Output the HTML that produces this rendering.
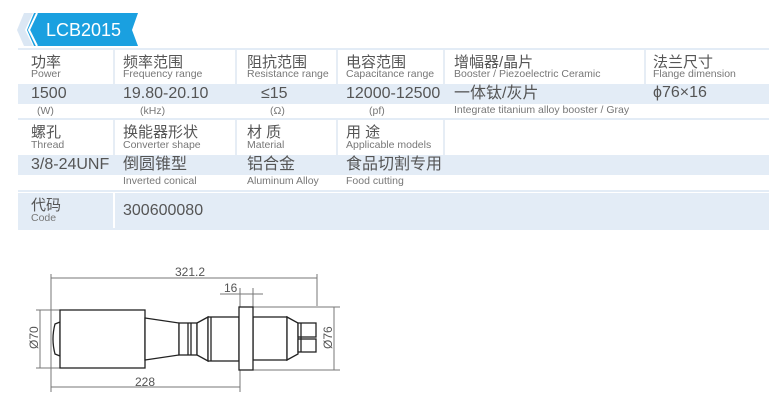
<!DOCTYPE html>
<html><head><meta charset="utf-8"><style>
body{margin:0;width:780px;height:413px;background:#fff;position:relative;overflow:hidden;font-family:"Liberation Sans","Noto Sans CJK SC",sans-serif;color:#555}
.a{position:absolute}
.band{position:absolute;left:18px;width:751px;background:#e3ecf6}
.vl{position:absolute;width:2px;background:#e6edf5}
.hl{position:absolute;left:18px;width:751px;height:2px;background:#e3ecf6}
.cn{position:absolute;font-size:15px;line-height:16px;color:#555;white-space:nowrap}
.en{position:absolute;font-size:10.5px;line-height:11px;color:#777;white-space:nowrap}
.v{position:absolute;font-size:16px;line-height:16px;color:#555;white-space:nowrap}
</style></head><body>
<svg class="a" style="left:0;top:0" width="160" height="50">
<polygon points="24,13 33,13 25,30 33,46 24,46 17,30" fill="#dbe7f4"/>
<polygon points="34,13 138,13 132,30 138,46 34,46 27,30" fill="#1aa0e0"/>
<polyline points="37,13 29,30 37,46" fill="none" stroke="#fff" stroke-width="2"/>
<text x="46" y="36" font-size="18" fill="#fff" font-family="Liberation Sans,sans-serif">LCB2015</text>
</svg>
<div class="hl" style="top:48px"></div>
<div class="band" style="top:84px;height:20px"></div>
<div class="hl" style="top:118px"></div>
<div class="band" style="top:155px;height:20px"></div>
<div class="hl" style="top:190px"></div>
<div class="band" style="top:193px;height:35px"></div>
<div class="hl" style="top:228px"></div>
<div class="vl" style="left:113px;top:50px;height:34px"></div>
<div class="vl" style="left:235px;top:50px;height:34px"></div>
<div class="vl" style="left:336px;top:50px;height:34px"></div>
<div class="vl" style="left:443px;top:50px;height:34px"></div>
<div class="vl" style="left:644px;top:50px;height:34px"></div>
<div class="vl" style="left:113px;top:120px;height:35px"></div>
<div class="vl" style="left:235px;top:120px;height:35px"></div>
<div class="vl" style="left:336px;top:120px;height:35px"></div>
<div class="vl" style="left:443px;top:120px;height:35px"></div>
<div class="vl" style="left:113px;top:193px;height:35px;background:#fff"></div>

<div class="cn" style="left:31px;top:55px">功率</div><div class="en" style="left:31px;top:69px">Power</div>
<div class="cn" style="left:123px;top:55px">频率范围</div><div class="en" style="left:123px;top:69px">Frequency range</div>
<div class="cn" style="left:247px;top:55px">阻抗范围</div><div class="en" style="left:247px;top:69px">Resistance range</div>
<div class="cn" style="left:346px;top:55px">电容范围</div><div class="en" style="left:346px;top:69px">Capacitance range</div>
<div class="cn" style="left:454px;top:55px">增幅器/晶片</div><div class="en" style="left:454px;top:69px">Booster / Piezoelectric Ceramic</div>
<div class="cn" style="left:653px;top:55px">法兰尺寸</div><div class="en" style="left:653px;top:69px">Flange dimension</div>

<div class="v" style="left:31px;top:86px">1500</div>
<div class="v" style="left:123px;top:86px">19.80-20.10</div>
<div class="v" style="left:261px;top:86px">≤15</div>
<div class="v" style="left:346px;top:86px">12000-12500</div>
<div class="v" style="left:454px;top:86px">一体钛/灰片</div>
<div class="v" style="left:653px;top:85px">ϕ76×16</div>
<div class="en" style="left:37px;top:106px">(W)</div>
<div class="en" style="left:140px;top:106px">(kHz)</div>
<div class="en" style="left:270px;top:106px">(Ω)</div>
<div class="en" style="left:369px;top:106px">(pf)</div>
<div class="en" style="left:454px;top:105px">Integrate titanium alloy booster / Gray</div>

<div class="cn" style="left:31px;top:125px">螺孔</div><div class="en" style="left:31px;top:140px">Thread</div>
<div class="cn" style="left:123px;top:125px">换能器形状</div><div class="en" style="left:123px;top:140px">Converter shape</div>
<div class="cn" style="left:247px;top:125px">材 质</div><div class="en" style="left:247px;top:140px">Material</div>
<div class="cn" style="left:346px;top:125px">用 途</div><div class="en" style="left:346px;top:140px">Applicable models</div>

<div class="v" style="left:31px;top:157px">3/8-24UNF</div>
<div class="v" style="left:123px;top:157px">倒圆锥型</div>
<div class="v" style="left:247px;top:157px">铝合金</div>
<div class="v" style="left:346px;top:157px">食品切割专用</div>
<div class="en" style="left:123px;top:176px">Inverted conical</div>
<div class="en" style="left:247px;top:176px">Aluminum Alloy</div>
<div class="en" style="left:346px;top:176px">Food cutting</div>

<div class="cn" style="left:31px;top:198px">代码</div><div class="en" style="left:31px;top:213px">Code</div>
<div class="v" style="left:123px;top:203px">300600080</div>

<svg class="a" style="left:0;top:250px" width="360" height="163" viewBox="0 250 360 163">
<g stroke="#777" stroke-width="1" fill="none">
<line x1="51" y1="274" x2="51" y2="392"/><line x1="317" y1="274" x2="317" y2="306"/>
<line x1="51" y1="278" x2="317" y2="278"/>
<line x1="240" y1="288" x2="240" y2="392"/><line x1="253" y1="288" x2="253" y2="307"/>
<line x1="220" y1="294" x2="263" y2="294"/>
<line x1="51" y1="387" x2="240" y2="387"/>
<line x1="36" y1="310" x2="60" y2="310"/><line x1="36" y1="368" x2="60" y2="368"/>
<line x1="40" y1="310" x2="40" y2="368"/>
<line x1="253" y1="307" x2="340" y2="307"/><line x1="253" y1="370" x2="340" y2="370"/>
<line x1="334" y1="307" x2="334" y2="370"/>
</g>
<g fill="#555" font-size="12" font-family="Liberation Sans,sans-serif">
<text x="175" y="276">321.2</text>
<text x="224" y="292">16</text>
<text x="135" y="386">228</text>
<text transform="translate(38,349) rotate(-90)">Ø70</text>
<text transform="translate(332,349) rotate(-90)">Ø76</text>
</g>
<g stroke="#222" stroke-width="1.3" fill="#fff">
<path d="M60,322 L55,324 Q51,339 55,354 L60,356 Z"/>
<rect x="60" y="310" width="85" height="58"/>
<polygon points="145,318 179,323 179,355 145,360"/>
<rect x="179" y="323" width="18" height="32"/>
<line x1="188" y1="323" x2="188" y2="355"/><line x1="191" y1="323" x2="191" y2="355"/>
<polygon points="197,323 208,317 208,361 197,355"/>
<rect x="208" y="317" width="31" height="44"/>
<line x1="211" y1="317" x2="211" y2="361"/>
<rect x="253" y="317" width="34" height="43"/>
<polygon points="287,317 298,323 298,354 287,360"/>
<rect x="239" y="307" width="14" height="63"/>
<rect x="298" y="323" width="18" height="14"/>
<rect x="298" y="339" width="18" height="13"/>
<line x1="301" y1="323" x2="301" y2="352"/>
</g>
</svg>
</body></html>
